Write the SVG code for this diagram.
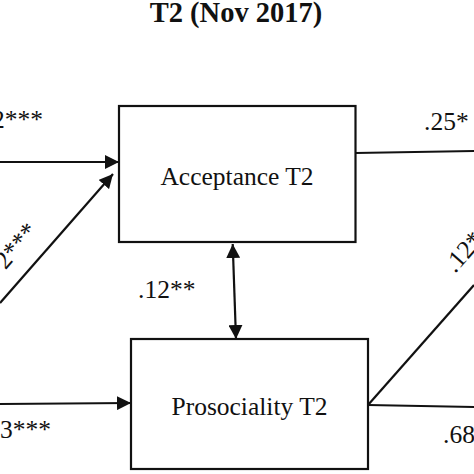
<svg xmlns="http://www.w3.org/2000/svg" width="474" height="474" viewBox="0 0 474 474">
  <style>
    .box { fill: #fff; stroke: #111; stroke-width: 2.2; }
    .line { fill: none; stroke: #111; stroke-width: 2.2; }
    .lbl { font-family: "Liberation Serif", "Times New Roman", serif; font-size: 25.5px; fill: #111; }
    .title { font-family: "Liberation Serif", "Times New Roman", serif; font-size: 28.5px; font-weight: bold; fill: #111; }
  </style>
  <defs>
    <marker id="arr" viewBox="0 0 14 14" refX="14" refY="7" markerWidth="14" markerHeight="14" markerUnits="userSpaceOnUse" orient="auto-start-reverse">
      <path d="M0,0 L14,7 L0,14 z" fill="#111"/>
    </marker>
  </defs>
  <rect width="474" height="474" fill="#fff"/>
  <text class="title" x="236" y="21.5" text-anchor="middle">T2 (Nov 2017)</text>

  <g id="connectors">
    <line class="line" x1="0" y1="162" x2="119" y2="162" marker-end="url(#arr)"/>
    <line class="line" x1="0" y1="303" x2="113" y2="174" marker-end="url(#arr)"/>
    <line class="line" x1="0" y1="404" x2="131" y2="403" marker-end="url(#arr)"/>
    <line class="line" x1="232.7" y1="244" x2="236" y2="339" marker-start="url(#arr)" marker-end="url(#arr)"/>
    <line class="line" x1="355.5" y1="153" x2="474" y2="151"/>
    <line class="line" x1="368" y1="405" x2="474" y2="285"/>
    <line class="line" x1="368" y1="405" x2="474" y2="407"/>
    <text class="lbl" x="43" y="128" text-anchor="end">2***</text>
    <text class="lbl" text-anchor="end" transform="translate(39,232) rotate(-48.8)">2***</text>
    <text class="lbl" x="51" y="438" text-anchor="end">3***</text>
    <text class="lbl" x="138" y="298">.12**</text>
    <text class="lbl" x="424" y="130">.25*</text>
    <text class="lbl" transform="translate(455,274) rotate(-48.5)">.12*</text>
    <text class="lbl" x="443" y="443">.68</text>
  </g>

  <g id="acceptance">
    <rect class="box" x="119" y="106" width="236.5" height="136"/>
    <text class="lbl" x="237" y="185" text-anchor="middle">Acceptance T2</text>
  </g>
  <g id="prosociality">
    <rect class="box" x="131" y="339" width="237" height="130"/>
    <text class="lbl" x="249.5" y="415" text-anchor="middle">Prosociality T2</text>
  </g>
</svg>
